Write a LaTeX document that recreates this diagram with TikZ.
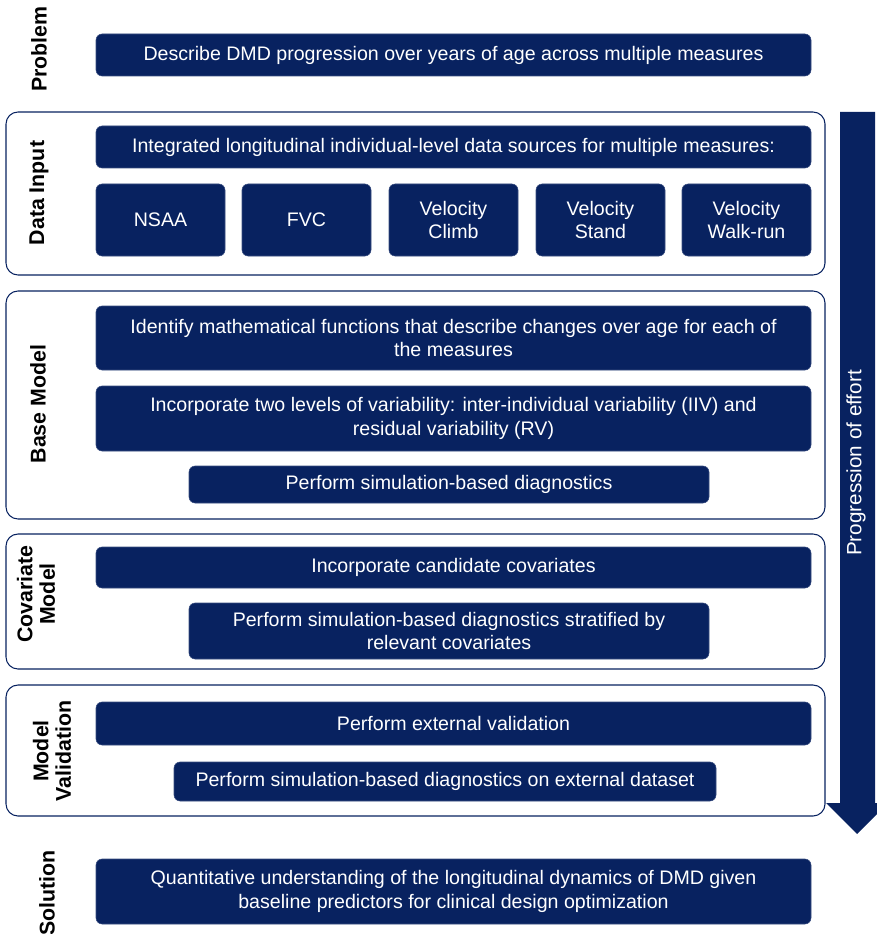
\documentclass[tikz,border=0pt]{standalone}
\usepackage{fontspec}
\setmainfont{Liberation Sans}
\definecolor{navy}{RGB}{8,34,96}

\tikzset{
  box/.style = {draw = navy!80, fill = navy, rounded corners = 4.5pt, text = white, align = center,
                inner sep = 0pt, font = \fontsize{14.7}{17.5}\selectfont},
  wide/.style = {box, minimum width = 536.25pt},
  frame/.style = {draw = navy, thick, rounded corners = 9pt, inner sep = 0pt, minimum width = 614.25pt},
  stage/.style = {rotate = 90, align = center, font = \bfseries\fontsize{16}{17}\selectfont}
}

\begin{document}
\begin{tikzpicture}[x = 0.75pt, y = -0.75pt]
	 \useasboundingbox (0, 0) rectangle (876, 934);
	 
	 % frames
	 \node[frame, minimum height = 122.25pt] (dataframe) at (415.5, 193.5) {};
	 \node[frame, minimum height = 171pt] (baseframe) at (415.5, 405) {};
	 \node[frame, minimum height = 101.25pt] (covframe) at (415.5, 601.5) {};
	 \node[frame, minimum height = 98.25pt] (valframe) at (415.5, 750.5) {};
	 
	 % progression arrow
	 \fill[navy] (840, 112) -- (875, 112) -- (875, 803) -- (888, 803) -- (857, 834) -- (826, 803) -- (840, 803) -- cycle;
	 \node[rotate = 90, text = white, font = \fontsize{15.5}{17}\selectfont] (effort) at (856, 463) {Progression of effort};
	 
	 % stage labels
	 \node[stage] (problem) at (39, 49) {Problem};
	 \node[stage] (datainput) at (39, 193) {Data Input};
	 \node[stage] (basemodel) at (38, 404) {Base Model};
	 \node[stage] (covmodel) at (36, 594) {Covariate\\Model};
	 \node[stage] (valmodel) at (52, 751) {Model\\Validation};
	 \node[stage] (solution) at (47, 893) {Solution};
	 
	 % problem
	 \node[wide, minimum height = 31.5pt] (describe) at (453.5, 55) {Describe DMD progression over years of age across multiple measures};
	 
	 % data input
	 \node[wide, minimum height = 31.5pt] (sources) at (453.5, 147) {Integrated longitudinal individual-level data sources for multiple measures:};
	 \node[box, minimum width = 96.75pt, minimum height = 54pt] (nsaa) at (160.5, 220) {NSAA};
	 \node[box, minimum width = 96.75pt, minimum height = 54pt] (fvc) at (306.5, 220) {FVC};
	 \node[box, minimum width = 96.75pt, minimum height = 54pt] (climb) at (453.5, 220) {Velocity\\Climb};
	 \node[box, minimum width = 96.75pt, minimum height = 54pt] (stand) at (600.5, 220) {Velocity\\Stand};
	 \node[box, minimum width = 96.75pt, minimum height = 54pt] (walkrun) at (746.5, 220) {Velocity\\Walk-run};
	 
	 % base model
	 \node[wide, minimum height = 48pt] (functions) at (453.5, 338) {Identify mathematical functions that describe changes over age for each of\\the measures};
	 \node[wide, minimum height = 48.75pt] (variability) at (453.5, 418.5) {Incorporate two levels of variability: inter-individual variability (IIV) and\\residual variability (RV)};
	 \node[box, minimum width = 390pt, minimum height = 27.75pt] (simdiag) at (449, 484.5) {Perform simulation-based diagnostics};
	 
	 % covariate model
	 \node[wide, minimum height = 30.75pt] (covariates) at (453.5, 567.5) {Incorporate candidate covariates};
	 \node[box, minimum width = 390pt, minimum height = 42pt] (stratified) at (449, 631) {Perform simulation-based diagnostics stratified by\\relevant covariates};
	 
	 % model validation
	 \node[wide, minimum height = 32.25pt] (external) at (453.5, 723.5) {Perform external validation};
	 \node[box, minimum width = 406.5pt, minimum height = 29.25pt] (extdata) at (445, 781.5) {Perform simulation-based diagnostics on external dataset};
	 
	 % solution
	 \node[wide, minimum height = 48.75pt] (understanding) at (453.5, 891.5) {Quantitative understanding of the longitudinal dynamics of DMD given\\baseline predictors for clinical design optimization};
\end{tikzpicture}
\end{document}
